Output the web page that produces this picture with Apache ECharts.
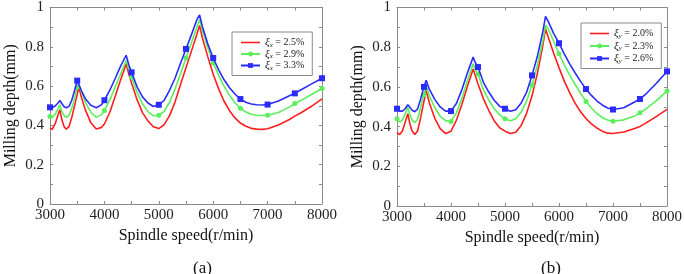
<!DOCTYPE html>
<html><head><meta charset="utf-8">
<script src="https://cdn.jsdelivr.net/npm/echarts@6/dist/echarts.min.js"></script>
<style>html,body{margin:0;padding:0;background:#fff}#c{width:685px;height:274px}</style>
</head><body><div id="c"></div>
<script>
// ---- Data ----
const markSpeeds = [3000,3500,4000,4500,5000,5500,6000,6500,7000,7500,8000];

const speedsA = [3000,3040,3100,3150,3180,3220,3260,3300,3350,3400,3450,3500,3530,3580,3650,3750,3850,3950,4000,4100,4200,4300,4400,4450,4500,4600,4700,4800,4900,5000,5100,5200,5300,5400,5500,5600,5700,5750,5800,5900,6000,6100,6200,6300,6400,6500,6600,6700,6800,6900,7000,7200,7400,7500,7600,7800,8000];
const redA = [0.385,0.380,0.412,0.455,0.480,0.427,0.393,0.380,0.395,0.440,0.498,0.558,0.595,0.541,0.479,0.414,0.382,0.390,0.407,0.467,0.550,0.633,0.713,0.660,0.614,0.531,0.465,0.423,0.393,0.384,0.404,0.451,0.520,0.609,0.693,0.778,0.864,0.909,0.846,0.750,0.660,0.586,0.523,0.475,0.438,0.412,0.396,0.385,0.381,0.380,0.383,0.402,0.430,0.447,0.462,0.496,0.535];
const greenA = [0.445,0.440,0.458,0.487,0.505,0.470,0.450,0.440,0.452,0.488,0.535,0.595,0.612,0.569,0.519,0.467,0.441,0.455,0.476,0.530,0.597,0.663,0.730,0.684,0.645,0.568,0.510,0.470,0.449,0.452,0.472,0.519,0.586,0.663,0.743,0.821,0.900,0.940,0.885,0.795,0.718,0.655,0.600,0.553,0.515,0.487,0.468,0.457,0.452,0.450,0.452,0.466,0.493,0.512,0.525,0.556,0.588];
const blueA = [0.492,0.489,0.500,0.515,0.527,0.510,0.495,0.490,0.497,0.528,0.575,0.628,0.625,0.575,0.536,0.502,0.490,0.506,0.528,0.579,0.640,0.703,0.757,0.707,0.670,0.596,0.545,0.514,0.496,0.505,0.528,0.580,0.641,0.716,0.789,0.862,0.938,0.962,0.905,0.815,0.743,0.683,0.632,0.592,0.560,0.534,0.518,0.509,0.505,0.504,0.506,0.524,0.551,0.563,0.579,0.610,0.640];

const speedsB = [3000,3050,3100,3150,3200,3240,3280,3330,3380,3430,3480,3500,3540,3600,3700,3800,3900,4000,4100,4200,4300,4410,4450,4500,4600,4700,4800,4900,5000,5100,5200,5300,5400,5500,5600,5700,5750,5800,5900,6000,6100,6200,6300,6400,6500,6600,6700,6800,6900,7000,7200,7400,7500,7600,7800,8000];
const redB = [0.369,0.360,0.378,0.421,0.465,0.413,0.378,0.360,0.378,0.435,0.502,0.529,0.582,0.519,0.442,0.390,0.365,0.377,0.432,0.510,0.599,0.690,0.657,0.615,0.541,0.481,0.430,0.394,0.377,0.365,0.372,0.406,0.467,0.555,0.668,0.808,0.893,0.851,0.771,0.697,0.628,0.570,0.517,0.475,0.441,0.414,0.393,0.377,0.367,0.365,0.373,0.391,0.401,0.416,0.450,0.487];
const greenB = [0.440,0.423,0.433,0.463,0.498,0.459,0.433,0.420,0.437,0.487,0.547,0.560,0.607,0.554,0.496,0.452,0.430,0.426,0.469,0.541,0.629,0.716,0.687,0.665,0.585,0.533,0.490,0.459,0.440,0.430,0.440,0.474,0.528,0.610,0.709,0.831,0.910,0.893,0.830,0.767,0.710,0.658,0.612,0.567,0.527,0.494,0.466,0.446,0.433,0.427,0.434,0.453,0.470,0.487,0.530,0.579];
const blueB = [0.490,0.478,0.478,0.490,0.510,0.497,0.482,0.475,0.489,0.532,0.582,0.600,0.633,0.587,0.537,0.499,0.478,0.478,0.516,0.585,0.667,0.750,0.722,0.700,0.623,0.574,0.533,0.503,0.490,0.477,0.485,0.519,0.573,0.658,0.754,0.877,0.955,0.930,0.870,0.820,0.765,0.715,0.670,0.628,0.589,0.557,0.530,0.509,0.494,0.486,0.495,0.524,0.539,0.562,0.617,0.678];

const subA = 'x', dampA = ['2.5%','2.9%','3.3%'];
const subB = 'y', dampB = ['2.0%','2.3%','2.6%'];
const xTitle = 'Spindle speed(r/min)';
const yTitle = 'Milling depth(mm)';
const captions = ['(a)','(b)'];

// ---- Build chart ----
const FONT = "'Liberation Serif','Times New Roman',serif";
const AX = '#8a8a8a';
const COLORS = ['#ff1e1e','#5cee5c','#2b2bff'];
const SYMS = ['none','circle','rect'];
const SYMSIZE = [0,5,6];

function toData(speeds, vals, withMarks){
  return speeds.map((s,i)=>{
    const o = {value:[s, vals[i]]};
    if(!withMarks || markSpeeds.indexOf(s) < 0) o.symbol = 'none';
    return o;
  });
}
const namesA = dampA.map(d=>'ξ'+subA+' = '+d);
const namesB = dampB.map(d=>'ξ'+subB+' = '+d);

const grids = [
  {left:50, top:6, width:272, height:198},
  {left:397, top:7, width:274, height:199}
];
function xAxes(g){
  const base = {gridIndex:g, type:'value', min:3000, max:8000, interval:500,
    axisLine:{show:true, onZero:false, lineStyle:{color:AX, width:1}},
    axisTick:{show:true, inside:true, length:3, lineStyle:{color:AX}},
    splitLine:{show:false}};
  return [
    Object.assign({}, base, {position:'bottom',
      axisLabel:{show:true, margin:4, color:'#222', fontFamily:FONT, fontSize:15,
        formatter:v=> (v%1000===0 ? String(v) : '')},
      name:xTitle, nameLocation:'middle', nameGap:19,
      nameTextStyle:{color:'#111', fontFamily:FONT, fontSize:16}}),
    Object.assign({}, base, {position:'top', axisLabel:{show:false}})
  ];
}
function yAxes(g){
  const base = {gridIndex:g, type:'value', min:0, max:1, interval:0.1,
    axisLine:{show:true, onZero:false, lineStyle:{color:AX, width:1}},
    axisTick:{show:true, inside:true, length:3, lineStyle:{color:AX}},
    splitLine:{show:false}};
  return [
    Object.assign({}, base, {position:'left',
      axisLabel:{show:true, margin:6, color:'#222', fontFamily:FONT, fontSize:15,
        formatter:v=>{const t=Math.round(v*10); return t%2===0 ? (t===0?'0':t===10?'1':(t/10).toFixed(1)) : '';}},
      name:yTitle, nameLocation:'middle', nameGap:31,
      nameTextStyle:{color:'#111', fontFamily:FONT, fontSize:16}}),
    Object.assign({}, base, {position:'right', axisLabel:{show:false}})
  ];
}
function mkSeries(names, speeds, arrs, xi, yi){
  return names.map((n,k)=>({
    name:n, type:'line', xAxisIndex:xi, yAxisIndex:yi,
    data: toData(speeds, arrs[k], k>0),
    symbol:SYMS[k], symbolSize:SYMSIZE[k], showSymbol:k>0, showAllSymbol:true,
    lineStyle:{color:COLORS[k], width:1.6},
    itemStyle:{color:COLORS[k]},
    smooth:false, z:2+k
  }));
}
const rich = {
  g:{fontFamily:FONT, fontStyle:'italic', fontSize:11, color:'#222', lineHeight:12},
  s:{fontFamily:FONT, fontStyle:'italic', fontSize:7, color:'#222', verticalAlign:'bottom', lineHeight:12, padding:[4,0,0,0]},
  t:{fontFamily:FONT, fontSize:10, color:'#222', lineHeight:12}
};
function legendFmt(name){
  const m = name.match(/^ξ(\w) = (.*)$/);
  return '{g|ξ}{s|'+m[1]+'}{t| = '+m[2]+'}';
}
function mkLegend(names, left, top, gap){
  return {data:names.map((n,k)=> k===0 ? {name:n, icon:'path://M0,0H19V1.6H0Z'} : {name:n}),
    orient:'vertical', left:left, top:top,
    padding:[5,8,4,8], itemGap:gap, itemWidth:19, itemHeight:6,
    borderColor:'#8a8a8a', borderWidth:1, backgroundColor:'#fff',
    formatter:legendFmt, textStyle:{rich:rich}, selectedMode:false};
}

const option = {
  animation:false,
  backgroundColor:'#fff',
  grid:grids,
  xAxis:[...xAxes(0), ...xAxes(1)],
  yAxis:[...yAxes(0), ...yAxes(1)],
  legend:[mkLegend(namesA, 232, 32, 0), mkLegend(namesB, 581, 23, 1)],
  title:[
    {text:captions[0], left:188, top:255, textStyle:{fontFamily:FONT, fontSize:17, fontWeight:'normal', color:'#111'}},
    {text:captions[1], left:536, top:255, textStyle:{fontFamily:FONT, fontSize:17, fontWeight:'normal', color:'#111'}}
  ],
  series:[
    ...mkSeries(namesA, speedsA, [redA, greenA, blueA], 0, 0),
    ...mkSeries(namesB, speedsB, [redB, greenB, blueB], 2, 2)
  ]
};
const chart = echarts.init(document.getElementById('c'), null, {renderer:'canvas'});
chart.setOption(option);
</script></body></html>
